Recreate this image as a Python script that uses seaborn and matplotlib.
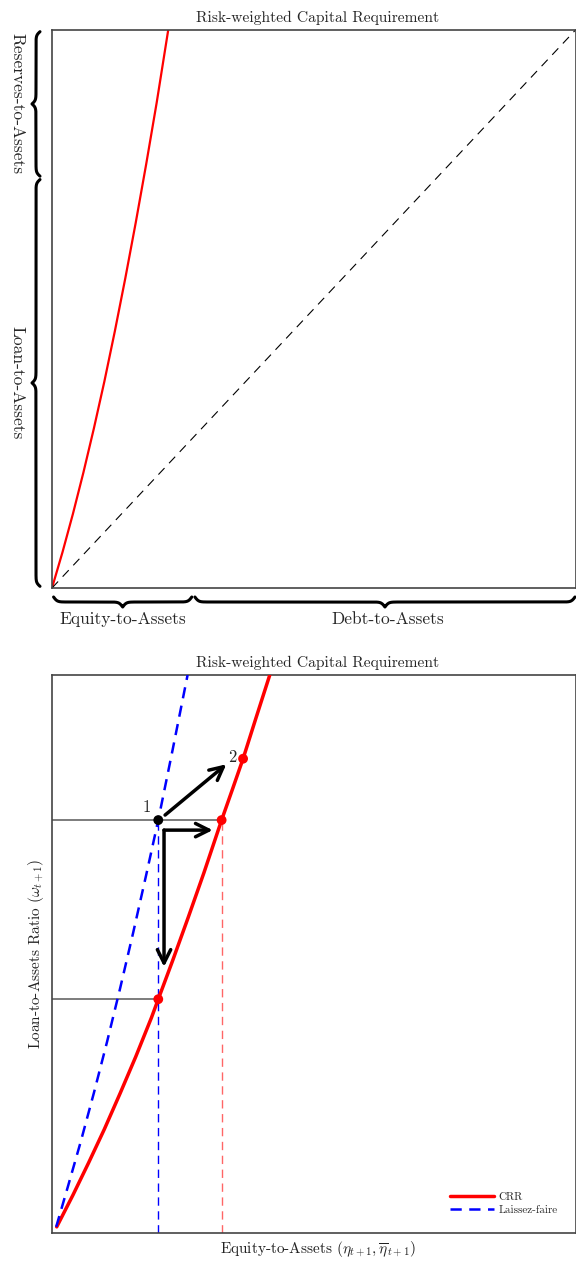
import numpy as np
import pandas as pd
import matplotlib
matplotlib.use("Agg")
import matplotlib.pyplot as plt
import seaborn as sns

# ---------------- data ----------------
# top panel: CRR curve and 45-degree line
top_crr_x = [0.0, 0.02, 0.04, 0.06, 0.08, 0.10, 0.12, 0.14, 0.16, 0.18, 0.20, 0.222]
top_crr_y = [0.0, 0.064, 0.133, 0.207, 0.286, 0.370, 0.460, 0.555, 0.655, 0.760, 0.870, 1.000]
diag_x = [0.0, 1.0]
diag_y = [0.0, 1.0]
equity_share = 0.27        # Equity-to-Assets span on the x axis
loan_share = 0.735         # Loan-to-Assets span on the y axis

# bottom panel
crr_x = [0.009, 0.04, 0.07, 0.10, 0.13, 0.16, 0.19, 0.203, 0.23, 0.26, 0.29, 0.324, 0.345, 0.365, 0.39, 0.416]
crr_y = [0.011, 0.068, 0.126, 0.186, 0.250, 0.316, 0.386, 0.419, 0.487, 0.565, 0.645, 0.740, 0.796, 0.850, 0.924, 1.000]
lf_x = [0.008, 0.03, 0.055, 0.08, 0.105, 0.13, 0.155, 0.18, 0.203, 0.23, 0.259]
lf_y = [0.011, 0.082, 0.164, 0.251, 0.342, 0.438, 0.538, 0.642, 0.740, 0.864, 1.000]

p1 = (0.203, 0.740)         # point 1 (laissez-faire)
p_crr_same_omega = (0.324, 0.740)
p2 = (0.365, 0.850)         # point 2
p_crr_same_eta = (0.203, 0.419)

arrow_diag = ((0.216, 0.749), (0.333, 0.840))
arrow_corner = (0.214, 0.722)
arrow_right_tip = (0.307, 0.722)
arrow_down_tip = (0.214, 0.477)

title = "Risk-weighted Capital Requirement"
xlabel = r"Equity-to-Assets ($\eta_{t+1}, \overline{\eta}_{t+1}$)"
ylabel = r"Loan-to-Assets Ratio ($\omega_{t+1}$)"

# ---------------- style ----------------
sns.set_theme(style="white")
plt.rcParams["font.family"] = ["cmr10", "DejaVu Serif"]
plt.rcParams["mathtext.fontset"] = "cm"
plt.rcParams["axes.unicode_minus"] = False
plt.rcParams["axes.formatter.use_mathtext"] = True

W, H = 576, 1262
fig = plt.figure(figsize=(W / 100, H / 100), dpi=100)

def px_axes(l, t, r, b):
    return fig.add_axes([l / W, 1 - b / H, (r - l) / W, (b - t) / H])

ax1 = px_axes(52, 30, 575.5, 588)
ax2 = px_axes(52, 675, 575.5, 1233)

for ax in (ax1, ax2):
    ax.set_xlim(0, 1)
    ax.set_ylim(0, 1)
    ax.set_xticks([])
    ax.set_yticks([])
    for s in ax.spines.values():
        s.set_color("#444444")
        s.set_linewidth(1.2)
    ax.set_title(title, fontsize=11.2, pad=6, x=0.508)

# ---------------- top panel ----------------
sns.lineplot(x=top_crr_x, y=top_crr_y, ax=ax1, color="red", lw=1.6,
             sort=False, estimator=None)
l, = ax1.plot(diag_x, diag_y, color="black", lw=0.8)
l.set_dashes((8, 6))

def brace(ax, start, end, axis, e_px, f_px, ax_len_px, span_px, lw=2.2):
    """Curly brace along x (axis='x', below axes) or y (axis='y', left of axes)."""
    n = 300
    half = span_px / 2.0
    t = np.linspace(0, half, n)
    b = 0.55
    yh = 1 / (1 + np.exp(-b * t)) + 1 / (1 + np.exp(-b * (t - half)))
    yfull = np.concatenate([yh, yh[-2::-1]])
    tfull = np.concatenate([t, t[-1] + t[1:]])
    off_px = e_px + (yfull - 0.5) * 2 * (f_px - e_px)
    u = start + tfull / span_px * (end - start)
    v = -off_px / ax_len_px
    if axis == "x":
        ax.plot(u, v, color="black", lw=lw, clip_on=False,
                transform=ax.get_xaxis_transform(), solid_capstyle="round")
    else:
        ax.plot(v, u, color="black", lw=lw, clip_on=False,
                transform=ax.get_yaxis_transform(), solid_capstyle="round")

axw, axh = 523.5, 558
gap = 0.003
brace(ax1, 0 + gap, equity_share - gap, "x", 9, 14, axh, (equity_share - 2 * gap) * axw)
brace(ax1, equity_share + gap, 1 - 0.001, "x", 9, 14, axh, (1 - equity_share - gap) * axw)
brace(ax1, 0 + gap, loan_share - gap, "y", 12, 16, axw, (loan_share - 2 * gap) * axh)
brace(ax1, loan_share + gap, 1 - gap, "y", 12, 16, axw, (1 - loan_share - 2 * gap) * axh)

ax1.text(equity_share / 2, -31 / axh, "Equity-to-Assets", transform=ax1.get_xaxis_transform(),
         ha="center", va="center", fontsize=12.5)
ax1.text((1 + equity_share) / 2 + 0.006, -31 / axh, "Debt-to-Assets", transform=ax1.get_xaxis_transform(),
         ha="center", va="center", fontsize=12.5)
ax1.text(-35 / axw, loan_share / 2, "Loan-to-Assets", transform=ax1.get_yaxis_transform(),
         ha="center", va="center", fontsize=12.5, rotation=-90)
ax1.text(-35 / axw, (1 + loan_share) / 2, "Reserves-to-Assets", transform=ax1.get_yaxis_transform(),
         ha="center", va="center", fontsize=12.5, rotation=-90)

# ---------------- bottom panel ----------------
df_crr = pd.DataFrame({"x": crr_x, "y": crr_y})
df_lf = pd.DataFrame({"x": lf_x, "y": lf_y})
sns.lineplot(data=df_crr, x="x", y="y", ax=ax2, color="red", lw=2.5,
             sort=False, estimator=None, label="CRR", zorder=3)
sns.lineplot(data=df_lf, x="x", y="y", ax=ax2, color="blue", lw=1.8,
             sort=False, estimator=None, label="Laissez-faire", zorder=3)
ax2.lines[-1].set_dashes((4.5, 3))

# guide lines
ax2.plot([0, p_crr_same_omega[0]], [p1[1], p1[1]], color="#666666", lw=1.2, zorder=1)
ax2.plot([0, p_crr_same_eta[0]], [p_crr_same_eta[1], p_crr_same_eta[1]], color="#666666", lw=1.2, zorder=1)
vb, = ax2.plot([p1[0], p1[0]], [0, p1[1]], color="blue", lw=1.0, zorder=2)
vb.set_dashes((6, 4))
vr, = ax2.plot([p_crr_same_omega[0]] * 2, [0, p_crr_same_omega[1]], color="red", lw=1.0,
               alpha=0.6, zorder=2)
vr.set_dashes((6, 4))

# points
ax2.scatter([p1[0]], [p1[1]], s=50, color="black", zorder=5, edgecolor="none")
ax2.scatter([p_crr_same_omega[0], p2[0], p_crr_same_eta[0]],
            [p_crr_same_omega[1], p2[1], p_crr_same_eta[1]],
            s=50, color="red", zorder=5, edgecolor="none")
ax2.text(0.181, 0.762, "1", fontsize=12, ha="center", va="center")
ax2.text(0.345, 0.853, "2", fontsize=12, ha="center", va="center")

# arrows
ap = dict(arrowstyle="->", lw=2.5, color="black", mutation_scale=24, shrinkA=0, shrinkB=0)
ax2.annotate("", xy=arrow_diag[1], xytext=arrow_diag[0], arrowprops=ap)
ax2.annotate("", xy=arrow_right_tip, xytext=arrow_corner, arrowprops=ap)
ax2.annotate("", xy=arrow_down_tip, xytext=arrow_corner, arrowprops=ap)

ax2.set_xlabel("")
ax2.set_ylabel("")
ax2.text(0.5 + 0.008, -16 / axh, xlabel, transform=ax2.transAxes, ha="center", va="center",
         fontsize=11, color="#222222")
ax2.text(-16 / axw, 0.5, ylabel, transform=ax2.transAxes, ha="center", va="center",
         fontsize=11, rotation=90, color="#222222")

leg = ax2.legend(loc="lower right", frameon=False, fontsize=8, handlelength=4,
                 borderaxespad=1.2, handletextpad=0.4, labelspacing=0.3)

fig.savefig("out.png", dpi=100)
